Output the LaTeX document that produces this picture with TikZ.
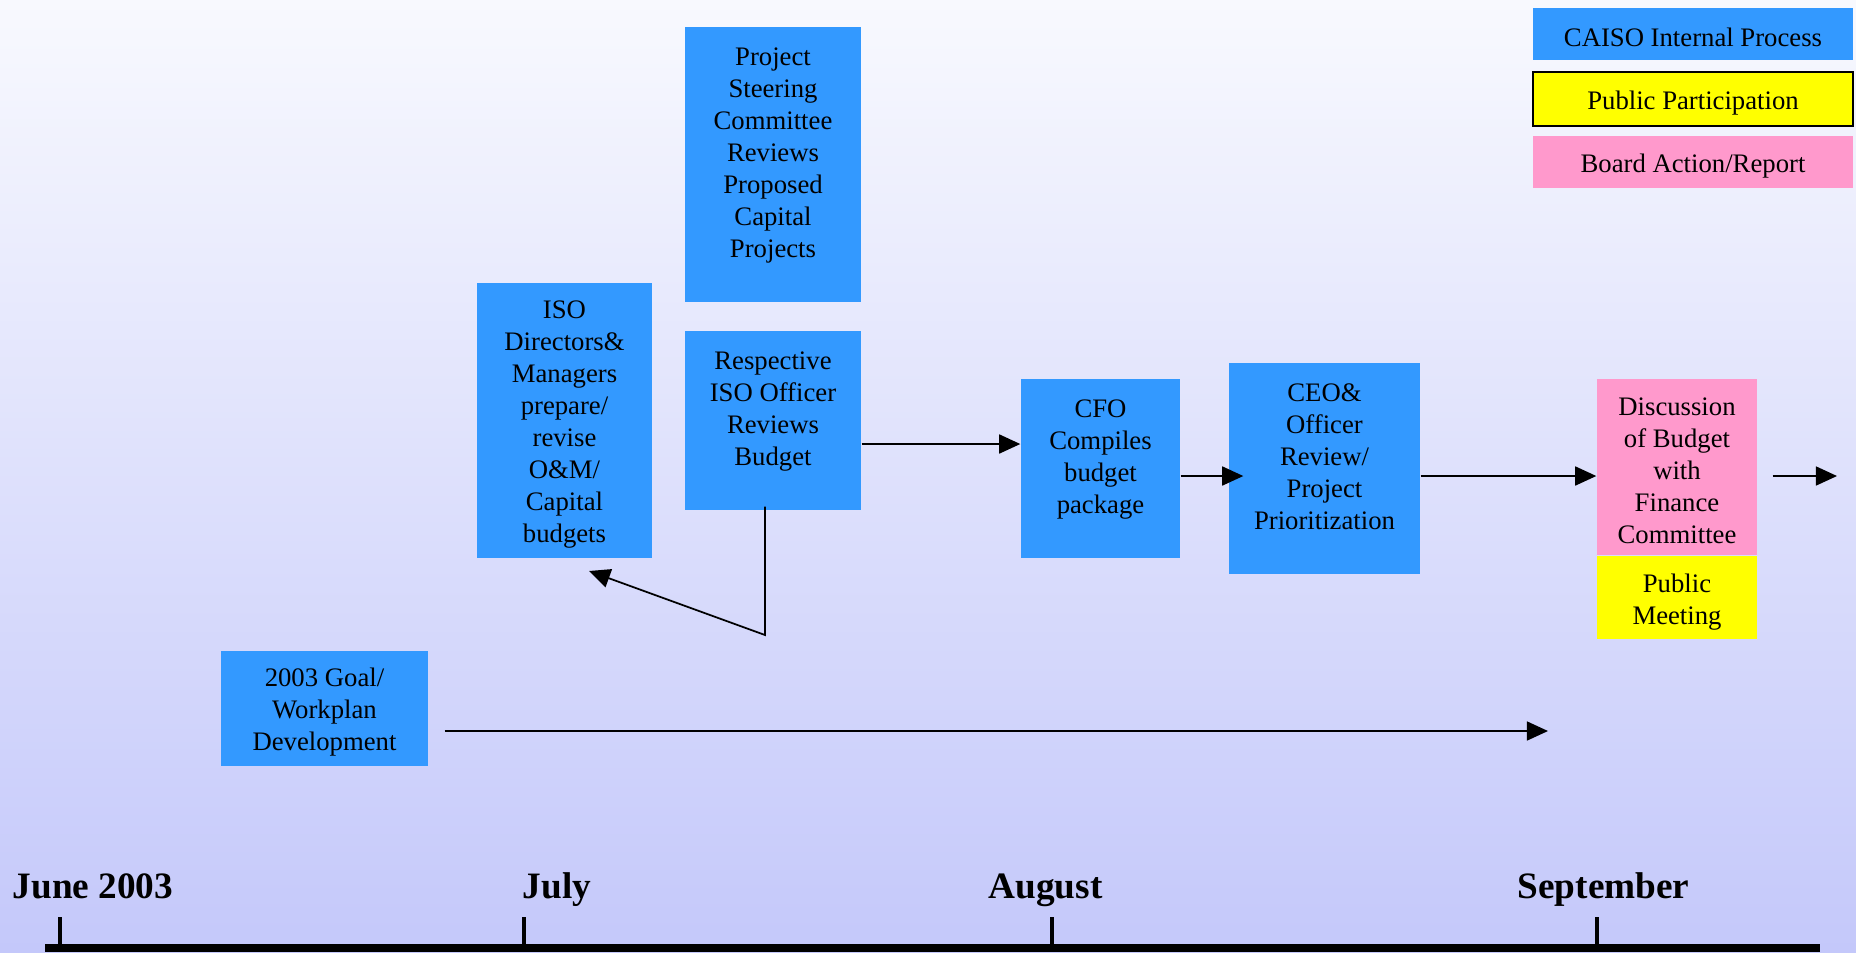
\documentclass[tikz,border=0pt]{standalone}
\usepackage{fontspec}
\setmainfont{Liberation Serif}
\usepackage{xcolor}
\usepackage{tikz}
\usetikzlibrary{positioning,calc,arrows.meta}
\definecolor{bgtop}{RGB}{248,249,254}
\definecolor{bgbot}{RGB}{196,200,250}
\definecolor{internal}{HTML}{3399FF}
\definecolor{public}{HTML}{FFFF00}
\definecolor{board}{HTML}{FF99CC}
\newcommand\hd{\rule{0pt}{7.4pt}}
\tikzset{
  proc/.style={fill=internal, draw=none, align=center, inner sep=0pt,
    font=\fontsize{7.6}{9.1}\selectfont, execute at begin node=\hd},
  pub/.style={proc, fill=public},
  brd/.style={proc, fill=board},
  arr/.style={draw=black, line width=0.5pt, -{Triangle[length=6pt,width=5.4pt]}},
  mtick/.style={draw=black, line width=0.04cm},
  month/.style={font=\fontsize{10.6}{12}\selectfont\bfseries, anchor=base west, inner sep=0pt},
}

\begin{document}
\begin{tikzpicture}
  \shade[top color=bgtop, bottom color=bgbot] (0,0) rectangle (18.56,-9.52);
  \useasboundingbox (0,0) rectangle (18.56,-9.52);
  % legend
  \node[proc, minimum width=3.2cm, minimum height=0.52cm] (legint) at (16.93,-0.34) {CAISO Internal Process};
  \node[pub, draw=black, line width=0.3pt, minimum width=3.2cm, minimum height=0.54cm] (legpub) at (16.93,-0.99) {Public Participation};
  \node[brd, minimum width=3.2cm, minimum height=0.52cm] (legbrd) at (16.93,-1.62) {Board Action/Report};
  % process boxes
  \node[proc, minimum width=1.76cm, minimum height=2.75cm] (steer) at (7.73,-1.645)
    {\hd Project\\Steering\\Committee\\Reviews\\Proposed\\Capital\\Projects\\\mbox{}};
  \node[proc, minimum width=1.76cm, minimum height=1.79cm] (officer) at (7.73,-4.205)
    {\hd Respective\\ISO Officer\\Reviews\\Budget\\\mbox{}};
  \node[proc, minimum width=1.75cm, minimum height=2.75cm] (direct) at (5.645,-4.205)
    {\hd ISO\\Directors\&\\Managers\\prepare/\\revise\\O\&M/\\Capital\\budgets};
  \node[proc, minimum width=1.59cm, minimum height=1.79cm] (cfo) at (11.005,-4.685)
    {\hd CFO\\Compiles\\budget\\package\\\mbox{}};
  \node[proc, minimum width=1.91cm, minimum height=2.11cm] (ceo) at (13.245,-4.685)
    {\hd CEO\&\\Officer\\Review/\\Project\\Prioritization\\\mbox{}};
  \node[brd, minimum width=1.60cm, minimum height=1.76cm] (disc) at (16.77,-4.67)
    {\hd Discussion\\of Budget\\with\\Finance\\Committee};
  \node[pub, minimum width=1.60cm, minimum height=0.83cm, below=0pt of disc] (meet)
    {\hd Public\\Meeting};
  \node[proc, minimum width=2.07cm, minimum height=1.15cm] (goal) at (3.245,-7.085)
    {\hd 2003 Goal/\\Workplan\\Development};
  % connectors
  \coordinate (bend) at (7.65,-6.35);
  \coordinate (dirtip) at (5.89,-5.71);
  \coordinate (goalend) at (15.48,-7.31);
  \coordinate (out) at (18.37,-4.76);
  \draw[arr] ([xshift=-0.08cm,yshift=0.04cm]officer.south) -- (bend) -- (dirtip);
  \draw[arr] ([yshift=-0.235cm]officer.east) -- ([yshift=-0.235cm]officer.east -| cfo.west);
  \draw[arr] ([yshift=-0.075cm]cfo.east) -- ($(cfo.east -| ceo.west)+(0.15,-0.075)$);
  \draw[arr] ([yshift=-0.075cm]ceo.east) -- ([yshift=-0.075cm]ceo.east -| disc.west);
  \draw[arr] ($(disc.east |- out)+(0.15,0)$) -- (out);
  \draw[arr] ($(goal.east |- goalend)+(0.16,0)$) -- (goalend);
  % timeline
  \draw[line width=0.08cm] (0.45,-9.48) -- (18.20,-9.48);
  \foreach \x/\lx/\m/\n in {0.60/0.12/June 2003/jun, 5.24/5.22/July/jul, 10.52/9.88/August/aug, 15.97/15.17/September/sep} {
    \node[month] (\n) at (\lx,-8.98) {\m};
    \draw[mtick] (\x,-9.17) -- (\x,-9.45);
  }
\end{tikzpicture}
\end{document}
